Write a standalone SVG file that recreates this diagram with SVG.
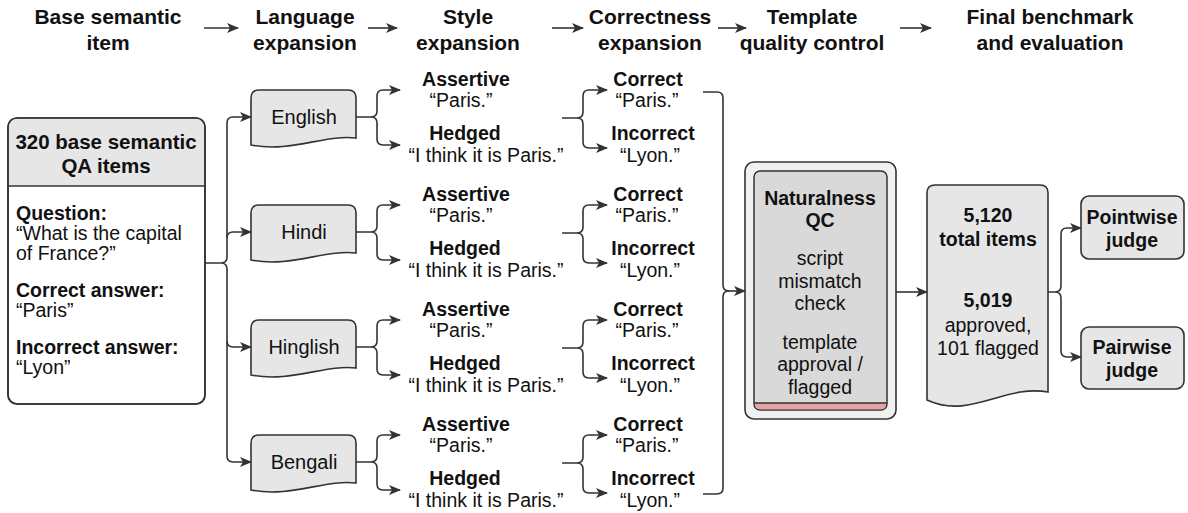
<svg xmlns="http://www.w3.org/2000/svg" xmlns:xlink="http://www.w3.org/1999/xlink" width="1188" height="513" viewBox="0 0 1188 513">
<defs>
<style>
text{font-family:"Liberation Sans",Arial,Helvetica,sans-serif;fill:#111;}
.h{font-size:21px;font-weight:bold;text-anchor:middle;}
.b{font-weight:bold;}
.t{font-size:19.5px;}
.c{text-anchor:middle;}
.box{fill:#e6e6e6;stroke:#333;stroke-width:1.6;}
.wbox{fill:#fff;stroke:#333;stroke-width:1.6;}
.ln{fill:none;stroke:#333;stroke-width:1.6;}
.arr{fill:none;stroke:#333;stroke-width:1.6;marker-end:url(#ah);}
.harr{fill:none;stroke:#333;stroke-width:1.6;marker-end:url(#hh);}
</style>
<marker id="ah" viewBox="0 0 12 10" refX="11" refY="5" markerWidth="12" markerHeight="10" markerUnits="userSpaceOnUse" orient="auto">
<path d="M0,0 L12,5 L0,10 L3,5 z" fill="#333"/>
</marker>
<marker id="hh" viewBox="0 0 12 10" refX="11" refY="5" markerWidth="12" markerHeight="10" markerUnits="userSpaceOnUse" orient="auto">
<path d="M0,0 L12,5 L0,10 L3,5 z" fill="#333"/>
</marker>
<path id="doc" d="M0,55 V8 Q0,0 8,0 H97 Q105,0 105,8 V48 C75,44 39,63 0,55 Z"/>
</defs>
<rect width="1188" height="513" fill="#fff"/>

<g id="headers">
<text class="h" x="108" y="24">Base semantic</text>
<text class="h" x="108" y="50">item</text>
<text class="h" x="305" y="24">Language</text>
<text class="h" x="305" y="50">expansion</text>
<text class="h" x="468" y="24">Style</text>
<text class="h" x="468" y="50">expansion</text>
<text class="h" x="650" y="24">Correctness</text>
<text class="h" x="650" y="50">expansion</text>
<text class="h" x="812" y="24">Template</text>
<text class="h" x="812" y="50">quality control</text>
<text class="h" x="1050" y="24">Final benchmark</text>
<text class="h" x="1050" y="50">and evaluation</text>
</g>

<g id="connectors">
<path class="harr" d="M204,28 H238"/>
<path class="harr" d="M368,28 H397"/>
<path class="harr" d="M552,28 H583"/>
<path class="harr" d="M718,28 H746"/>
<path class="harr" d="M900,28 H931"/>

<path class="ln" d="M205,263 H221 Q227,263 227,257 M221,263 Q227,263 227,269"/>
<path class="arr" d="M227,257 V123 Q227,117 233,117 H251"/>
<path class="arr" d="M227,238 Q227,232 233,232 H251"/>
<path class="arr" d="M227,341 Q227,347 233,347 H251"/>
<path class="arr" d="M227,269 V456 Q227,462 233,462 H251"/>

<path class="ln" d="M356,117 H371 Q377,117 377,111 M371,117 Q377,117 377,123"/>
<path class="arr" d="M377,111 V96 Q377,90 383,90 H400"/>
<path class="arr" d="M377,123 V139 Q377,145 383,145 H400"/>
<path class="ln" d="M356,232 H371 Q377,232 377,226 M371,232 Q377,232 377,238"/>
<path class="arr" d="M377,226 V211 Q377,205 383,205 H400"/>
<path class="arr" d="M377,238 V254 Q377,260 383,260 H400"/>
<path class="ln" d="M356,347 H371 Q377,347 377,341 M371,347 Q377,347 377,353"/>
<path class="arr" d="M377,341 V326 Q377,320 383,320 H400"/>
<path class="arr" d="M377,353 V369 Q377,375 383,375 H400"/>
<path class="ln" d="M356,462 H371 Q377,462 377,456 M371,462 Q377,462 377,468"/>
<path class="arr" d="M377,456 V441 Q377,435 383,435 H400"/>
<path class="arr" d="M377,468 V484 Q377,490 383,490 H400"/>

<path class="ln" d="M562,118 H577 Q583,118 583,112 M577,118 Q583,118 583,124"/>
<path class="arr" d="M583,112 V96 Q583,90 589,90 H607"/>
<path class="arr" d="M583,124 V142 Q583,148 589,148 H607"/>
<path class="ln" d="M562,233 H577 Q583,233 583,227 M577,233 Q583,233 583,239"/>
<path class="arr" d="M583,227 V211 Q583,205 589,205 H607"/>
<path class="arr" d="M583,239 V257 Q583,263 589,263 H607"/>
<path class="ln" d="M562,348 H577 Q583,348 583,342 M577,348 Q583,348 583,354"/>
<path class="arr" d="M583,342 V326 Q583,320 589,320 H607"/>
<path class="arr" d="M583,354 V372 Q583,378 589,378 H607"/>
<path class="ln" d="M562,463 H577 Q583,463 583,457 M577,463 Q583,463 583,469"/>
<path class="arr" d="M583,457 V441 Q583,435 589,435 H607"/>
<path class="arr" d="M583,469 V487 Q583,493 589,493 H607"/>

<path class="ln" d="M703,92 H717 Q723,92 723,98 V285 Q723,291 729,291"/>
<path class="ln" d="M703,494 H717 Q723,494 723,488 V297 Q723,291 729,291"/>
<path class="arr" d="M729,291 H745"/>

<path class="arr" d="M896,292 H927"/>

<path class="ln" d="M1048,292 H1055 Q1061,292 1061,286 M1055,292 Q1061,292 1061,298"/>
<path class="arr" d="M1061,286 V234 Q1061,228 1067,228 H1081"/>
<path class="arr" d="M1061,298 V351 Q1061,357 1067,357 H1081"/>
</g>

<g id="base-item">
<rect class="wbox" x="8" y="118" width="197" height="286" rx="9"/>
<path d="M8.8,186 V127 Q8.8,118.8 17,118.8 H196 Q204.2,118.8 204.2,127 V186 Z" fill="#e6e6e6"/>
<rect x="8" y="118" width="197" height="286" rx="9" fill="none" stroke="#333" stroke-width="1.6"/>
<line class="ln" x1="8" y1="186" x2="205" y2="186"/>
<text class="c b" x="106" y="149" font-size="20.5">320 base semantic</text>
<text class="c b" x="106" y="173" font-size="20.5">QA items</text>
<text class="t b" x="16" y="220">Question:</text>
<text class="t" x="16" y="240">“What is the capital</text>
<text class="t" x="16" y="260">of France?”</text>
<text class="t b" x="16" y="297">Correct answer:</text>
<text class="t" x="16" y="317">“Paris”</text>
<text class="t b" x="16" y="354">Incorrect answer:</text>
<text class="t" x="16" y="374">“Lyon”</text>
</g>

<g id="lang-english">
<use xlink:href="#doc" href="#doc" class="box" transform="translate(251,90)"/>
<text class="c" x="304" y="124" font-size="20">English</text>
</g>
<g id="lang-hindi">
<use xlink:href="#doc" href="#doc" class="box" transform="translate(251,205)"/>
<text class="c" x="304" y="239" font-size="20">Hindi</text>
</g>
<g id="lang-hinglish">
<use xlink:href="#doc" href="#doc" class="box" transform="translate(251,320)"/>
<text class="c" x="304" y="354" font-size="20">Hinglish</text>
</g>
<g id="lang-bengali">
<use xlink:href="#doc" href="#doc" class="box" transform="translate(251,435)"/>
<text class="c" x="304" y="469" font-size="20">Bengali</text>
</g>

<g id="style-english">
<text class="t c b" x="466" y="86">Assertive</text>
<text class="t c" x="461" y="107">“Paris.”</text>
<text class="t c b" x="465" y="140">Hedged</text>
<text class="t c" x="486" y="162">“I think it is Paris.”</text>
</g>
<g id="style-hindi">
<text class="t c b" x="466" y="201">Assertive</text>
<text class="t c" x="461" y="222">“Paris.”</text>
<text class="t c b" x="465" y="255">Hedged</text>
<text class="t c" x="486" y="277">“I think it is Paris.”</text>
</g>
<g id="style-hinglish">
<text class="t c b" x="466" y="316">Assertive</text>
<text class="t c" x="461" y="337">“Paris.”</text>
<text class="t c b" x="465" y="370">Hedged</text>
<text class="t c" x="486" y="392">“I think it is Paris.”</text>
</g>
<g id="style-bengali">
<text class="t c b" x="466" y="431">Assertive</text>
<text class="t c" x="461" y="452">“Paris.”</text>
<text class="t c b" x="465" y="485">Hedged</text>
<text class="t c" x="486" y="507">“I think it is Paris.”</text>
</g>

<g id="correct-english">
<text class="t c b" x="648" y="86">Correct</text>
<text class="t c" x="647" y="107">“Paris.”</text>
<text class="t c b" x="653" y="140">Incorrect</text>
<text class="t c" x="650" y="162">“Lyon.”</text>
</g>
<g id="correct-hindi">
<text class="t c b" x="648" y="201">Correct</text>
<text class="t c" x="647" y="222">“Paris.”</text>
<text class="t c b" x="653" y="255">Incorrect</text>
<text class="t c" x="650" y="277">“Lyon.”</text>
</g>
<g id="correct-hinglish">
<text class="t c b" x="648" y="316">Correct</text>
<text class="t c" x="647" y="337">“Paris.”</text>
<text class="t c b" x="653" y="370">Incorrect</text>
<text class="t c" x="650" y="392">“Lyon.”</text>
</g>
<g id="correct-bengali">
<text class="t c b" x="648" y="431">Correct</text>
<text class="t c" x="647" y="452">“Paris.”</text>
<text class="t c b" x="653" y="485">Incorrect</text>
<text class="t c" x="650" y="507">“Lyon.”</text>
</g>

<g id="qc">
<rect x="745" y="162" width="151" height="257" rx="9" fill="#f1f1f1" stroke="#333" stroke-width="1.6"/>
<rect x="754" y="171" width="133" height="239" rx="6" fill="#d9d9d9" stroke="#333" stroke-width="1.5"/>
<path d="M754.8,403 H886.2 V404 Q886.2,409.2 881,409.2 H760 Q754.8,409.2 754.8,404 Z" fill="#e6a3a3"/>
<line x1="754" y1="403" x2="887" y2="403" stroke="#333" stroke-width="1.3"/>
<text class="t c b" x="820" y="205">Naturalness</text>
<text class="t c b" x="820" y="227">QC</text>
<text class="t c" x="820" y="265">script</text>
<text class="t c" x="820" y="288">mismatch</text>
<text class="t c" x="820" y="310">check</text>
<text class="t c" x="820" y="349">template</text>
<text class="t c" x="820" y="371">approval /</text>
<text class="t c" x="820" y="394">flagged</text>
</g>

<g id="final-benchmark">
<path class="box" d="M927,400 V193 Q927,185 935,185 H1040 Q1048,185 1048,193 V392 C1005,384 970,420 927,400 Z"/>
<text class="t c b" x="988" y="222">5,120</text>
<text class="t c b" x="988" y="246">total items</text>
<text class="t c b" x="988" y="307">5,019</text>
<text class="t c" x="988" y="332">approved,</text>
<text class="t c" x="988" y="355">101 flagged</text>
</g>

<g id="pointwise-judge">
<rect class="box" x="1081" y="196" width="103" height="63" rx="8"/>
<text class="t c b" x="1132" y="224">Pointwise</text>
<text class="t c b" x="1132" y="247">judge</text>
</g>
<g id="pairwise-judge">
<rect class="box" x="1081" y="327" width="103" height="62" rx="8"/>
<text class="t c b" x="1132" y="354">Pairwise</text>
<text class="t c b" x="1132" y="377">judge</text>
</g>
</svg>
